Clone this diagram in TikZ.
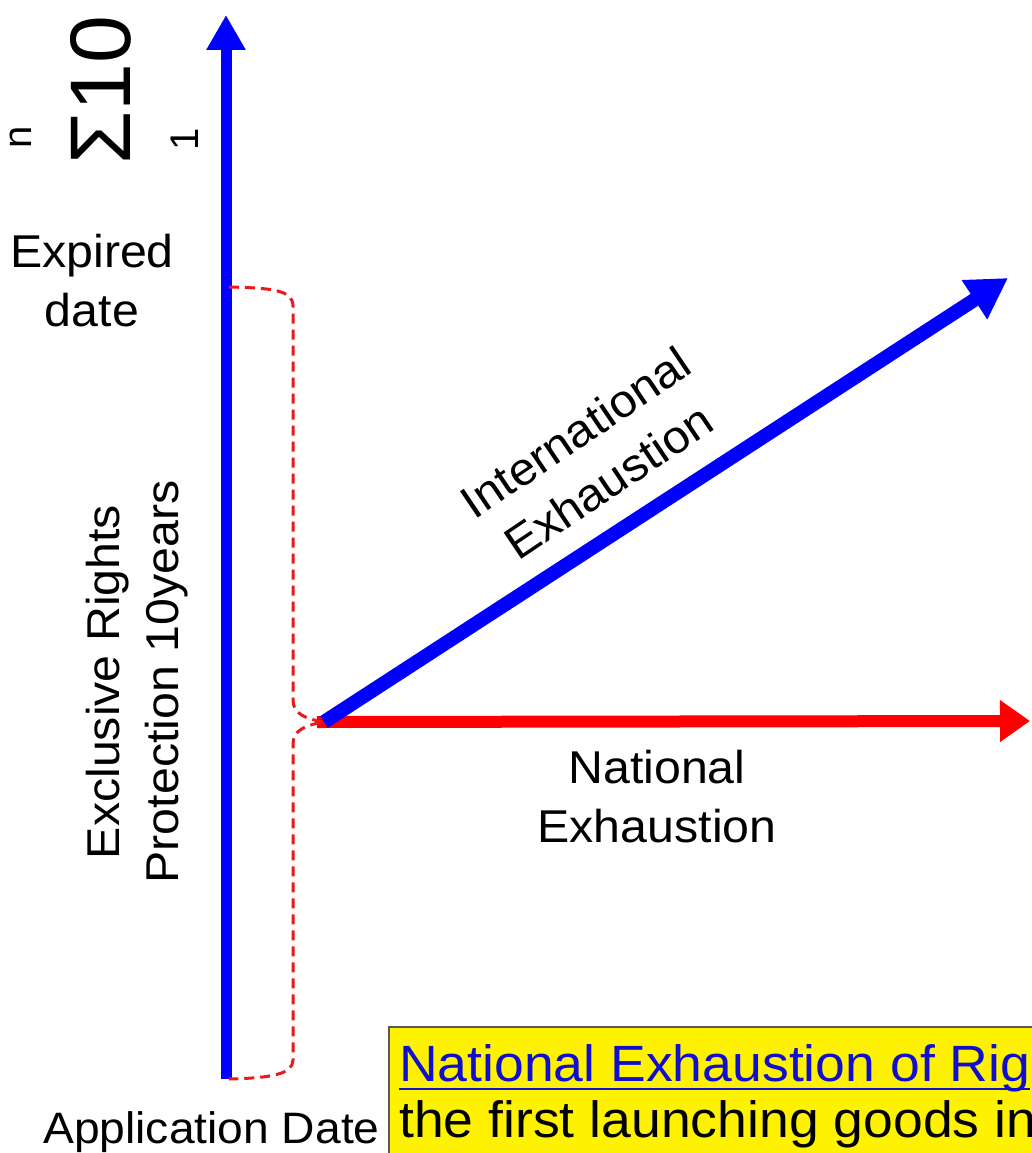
\documentclass[tikz,border=0pt]{standalone}
\usepackage{fontspec}
\setmainfont[FakeStretch=1.05]{Liberation Sans}
\newfontfamily\sigmafont{Liberation Sans}
\usetikzlibrary{arrows.meta}
\definecolor{hlblue}{RGB}{15,15,205}
\definecolor{pureblue}{RGB}{0,0,255}
\definecolor{purered}{RGB}{255,0,0}
\definecolor{dashred}{RGB}{235,25,25}
\begin{document}
\begin{tikzpicture}[x=1pt,y=-1pt,
  lbl/.style={inner sep=0pt, align=center, font=\fontsize{46}{59}\selectfont},
  boxtxt/.style={inner sep=0pt, anchor=base west, font=\fontsize{51}{57}\selectfont},
  sigtxt/.style={inner sep=0pt, rotate=90},
  bluearrow/.style={draw=pureblue},
  redarrow/.style={draw=purered, fill=purered},
  bracket/.style={draw=dashred, line width=3pt, dash pattern=on 10pt off 6pt}]
\useasboundingbox (0,0) rectangle (1032,1153);
\clip (0,0) rectangle (1032,1153);

% coordinates
\coordinate (O) at (324,722);
\coordinate (Or) at (317,722);
\coordinate (vb) at (226,1079);
\coordinate (vt) at (226,15);
\coordinate (dt) at (1008,278);
\coordinate (rt) at (1030,721);
\coordinate (bt) at (229,287);
\coordinate (bb) at (229,1079);

% arrows
\draw[bluearrow, line width=11pt, -{Triangle[length=35pt,width=37pt]}] (vb) -- (vt);
\draw[redarrow, line width=12pt, -{Triangle[length=30pt,width=40pt]}] (Or) -- (rt);
\draw[bluearrow, line width=14pt, -{Triangle[length=40pt,width=44pt]}] (O) -- (dt);

% dashed bracket
\draw[bracket] (bt) .. controls (272,288) and (293,290) .. (293,306)
  -- (293,700) .. controls (293,714) and (306,719) .. (O)
  .. controls (306,725) and (293,730) .. (293,744)
  -- (293,1060) .. controls (293,1074) and (272,1078) .. (bb);

% sum label
\node[sigtxt, font=\sigmafont\fontsize{86}{86}\selectfont] (sig) at (101,90) {Σ10};
\node[sigtxt, font=\sigmafont\fontsize{40}{40}\selectfont] (sup) at (21,137) {n};
\node[sigtxt, font=\sigmafont\fontsize{40}{40}\selectfont] (sub) at (185,139) {1};

% labels
\node[lbl] (exp) at (92,281) {Expired\\date};
\node[lbl, rotate=90] (excl) at (137,682) {Exclusive Rights\\Protection 10years};
\node[lbl, rotate=34] (intl) at (592,457) {International\\Exhaustion};
\node[lbl] (natl) at (657,797) {National\\Exhaustion};
\node[lbl, anchor=base west, font=\fontsize{44}{59}\selectfont] (app) at (43,1143) {Application Date};

% yellow box
\draw[fill=yellow, draw=black!65, line width=1.5pt] (389,1027) rectangle (1045,1165);
\node[boxtxt, text=hlblue] (l1) at (399,1081) {National Exhaustion of Rig};
\draw[hlblue, line width=2.5pt] ([yshift=-8pt]l1.base west) -- ([yshift=-8pt]l1.base east);
\node[boxtxt] (l2) at (399,1137) {the first launching goods in};
\end{tikzpicture}
\end{document}
